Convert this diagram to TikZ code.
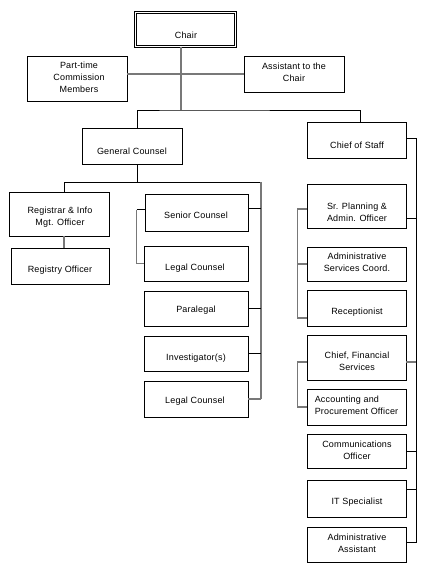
\documentclass[tikz,border=0pt]{standalone}
\usepackage{fontspec}
\setmainfont[LetterSpace=2]{Liberation Sans}
\begin{document}
\begin{tikzpicture}[x=1pt,y=-1pt,
  box/.style={draw=black,line width=0.8pt,rectangle,inner sep=0pt},
  txt/.style={font=\fontsize{9}{11.8}\selectfont,align=center,inner sep=0pt},
  conn/.style={draw=black,line width=0.8pt},
  gconn/.style={draw={rgb,255:red,120;green,120;blue,120},line width=1.1pt},
  gtrunk/.style={draw={rgb,255:red,120;green,120;blue,120},line width=1.5pt}]
\useasboundingbox (0,0) rectangle (432,572);
\fill[white] (0,0) rectangle (432,572);
% boxes
\node[box,double,double distance=1.3pt,line width=0.7pt,minimum width=100pt,minimum height=34pt] (chair) at (185.5,29.5) {};
\node[box,minimum width=100pt,minimum height=45pt] (pt) at (77,78.5) {};
\node[box,minimum width=100pt,minimum height=36pt] (asst) at (294,74) {};
\node[box,minimum width=100pt,minimum height=36pt] (gc) at (132,146) {};
\node[box,minimum width=99pt,minimum height=36pt] (cos) at (356.5,140) {};
\node[box,minimum width=100pt,minimum height=44pt] (reg) at (59,214) {};
\node[box,minimum width=98pt,minimum height=36pt] (rego) at (60,266) {};
\node[box,minimum width=103pt,minimum height=37pt] (sc) at (196.5,212.5) {};
\node[box,minimum width=104pt,minimum height=35pt] (lc1) at (196,263.5) {};
\node[box,minimum width=104pt,minimum height=35pt] (para) at (196,308.5) {};
\node[box,minimum width=104pt,minimum height=35pt] (inv) at (196,353.5) {};
\node[box,minimum width=104pt,minimum height=36pt] (lc2) at (196,399) {};
\node[box,minimum width=99pt,minimum height=44pt] (srp) at (356.5,206) {};
\node[box,minimum width=99pt,minimum height=34pt] (ads) at (356.5,264) {};
\node[box,minimum width=99pt,minimum height=36pt] (rec) at (356.5,308) {};
\node[box,minimum width=99pt,minimum height=45pt] (cfs) at (356.5,357.5) {};
\node[box,minimum width=99pt,minimum height=36pt] (acc) at (356.5,407) {};
\node[box,minimum width=99pt,minimum height=34pt] (com) at (356.5,451) {};
\node[box,minimum width=99pt,minimum height=37pt] (its) at (356.5,498.5) {};
\node[box,minimum width=99pt,minimum height=35pt] (aa) at (356.5,544.5) {};
% texts
\node[txt] (chairT) at (186,35) {Chair};
\node[txt] (ptT) at (79,77.5) {Part-time\\Commission\\Members};
\node[txt] (asstT) at (294,72.5) {Assistant to the\\Chair};
\node[txt] (gcT) at (132,151) {General Counsel};
\node[txt] (cosT) at (357,145.5) {Chief of Staff};
\node[txt] (regT) at (60,217.5) {Registrar \& Info\\Mgt. Officer};
\node[txt] (regoT) at (60,270) {Registry Officer};
\node[txt] (scT) at (196,215) {Senior Counsel};
\node[txt] (lc1T) at (195,268) {Legal Counsel};
\node[txt] (paraT) at (196,310) {Paralegal};
\node[txt] (invT) at (196,358) {Investigator(s)};
\node[txt] (lc2T) at (195,401) {Legal Counsel};
\node[txt] (srpT) at (357,212) {Sr. Planning \&\\Admin. Officer};
\node[txt] (adsT) at (357,262) {Administrative\\Services Coord.};
\node[txt] (recT) at (357,312) {Receptionist};
\node[txt] (cfsT) at (357,361.5) {Chief, Financial\\Services};
\node[txt,align=left] (accT) at (356.5,405) {Accounting and\\Procurement Officer};
\node[txt] (comT) at (357,450.5) {Communications\\Officer};
\node[txt] (itsT) at (357,502) {IT Specialist};
\node[txt] (aaT) at (357,543.5) {Administrative\\Assistant};
% junction coordinates
\coordinate (j1) at (181,110);
\coordinate (h1) at (181,74);
\coordinate (j2) at (137,182);
\coordinate (rc) at (261,182);
\coordinate (rr) at (416,138);
% top connectors
\draw[gtrunk] (chair.south -| j1) -- (j1);
\draw[gconn] (pt.east |- h1) -- (asst.west |- h1);
\draw[conn] ([xshift=5pt]gc.north) |- (j1) -| ([xshift=3.5pt]cos.north);
% general counsel branch
\draw[conn] (gc.south -| j2) -- (j2);
\draw[conn] ([xshift=5pt]reg.north) |- (rc);
\draw[gconn] (rc) -- (rc |- lc2.east);
\draw[gconn] (lc2.east) -- (rc |- lc2.east);
\draw[conn] ([yshift=4pt]sc.east) -- ([yshift=4pt]sc.east -| rc);
\draw[conn] (para.east) -- (para.east -| rc);
\draw[conn] (inv.east) -- (inv.east -| rc);
\draw[gconn] ([xshift=5pt]reg.south) -- ([xshift=5pt]reg.south |- rego.north);
\draw[conn] ([yshift=3pt]sc.west) -- ++(-8,0) coordinate (b1);
\draw[gconn] (b1) |- (lc1.west);
% chief of staff branch
\draw[conn] ([yshift=2pt]cos.east) -- (rr) -- (rr |- 0,542) -- ([yshift=2.5pt]aa.east);
\draw[conn] ([yshift=-12pt]srp.east) -- ([yshift=-12pt]srp.east -| rr);
\draw[gconn] ([yshift=-4.5pt]cfs.east) -- ([yshift=-4.5pt]cfs.east -| rr);
\draw[conn] (com.east) -- (com.east -| rr);
\draw[conn] ([yshift=9.5pt]its.east) -- ([yshift=9.5pt]its.east -| rr);
\draw[gconn] ([yshift=-3pt]srp.west) -- ++(-9,0) coordinate (b2) |- ([yshift=-10pt]rec.west);
\draw[gconn] (ads.west) -- (ads.west -| b2);
\draw[gconn] ([yshift=-4.5pt]cfs.west) -- ++(-9,0) |- (acc.west);
\end{tikzpicture}
\end{document}
